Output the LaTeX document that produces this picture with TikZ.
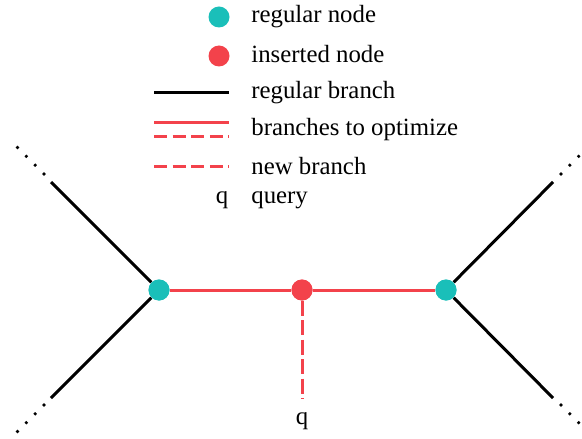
\documentclass[tikz,border=0pt]{standalone}
\usepackage{fontspec}
\setmainfont{Liberation Serif}
\newfontfamily\labelfont{Liberation Serif}
\definecolor{nodeteal}{RGB}{26,191,185}
\definecolor{branchred}{RGB}{243,66,75}
\begin{document}
\begin{tikzpicture}[x=0.5pt,y=-0.5pt,
  every node/.style={font=\labelfont\fontsize{12.4pt}{14pt}\selectfont},
  regnode/.style={circle, fill=nodeteal, minimum size=10.5pt, inner sep=0pt},
  insnode/.style={circle, fill=branchred, minimum size=10.5pt, inner sep=0pt},
  regbranch/.style={line width=1.5pt, black},
  optbranch/.style={line width=1.5pt, branchred},
  newbranch/.style={line width=1.5pt, branchred, dash pattern=on 7.5pt off 2.2pt},
  legdash/.style={line width=1.5pt, branchred, dash pattern=on 6.5pt off 2.8pt},
  cont/.style={line width=1.8pt, line cap=round, dash pattern=on 0pt off 6.25pt},
  label/.style={anchor=mid west, inner sep=0pt}]
\useasboundingbox (0,0) rectangle (582,438);

% legend
\node[regnode] (lgreg) at (219,17) {};
\node[label] (lgregt) at (251,18) {regular node};
\node[insnode] (lgins) at (219,56) {};
\node[label] (lginst) at (251,58) {inserted node};
\coordinate (lbA) at (154,93);
\coordinate (lbB) at (229,93);
\draw[regbranch] (lbA) -- (lbB);
\node[label] (lgbrt) at (251,94) {regular branch};
\coordinate (loA) at (154,123);
\coordinate (loB) at (229,123);
\draw[optbranch] (loA) -- (loB);
\coordinate (ldA) at (154,137);
\coordinate (ldB) at (229,137);
\draw[legdash] (ldA) -- (ldB);
\node[label] (lgopt) at (251,131) {branches to optimize};
\coordinate (lnA) at (154,167);
\coordinate (lnB) at (229,167);
\draw[legdash] (lnA) -- (lnB);
\node[label] (lgnew) at (251,170) {new branch};
\node[anchor=mid, inner sep=0pt] (lgq) at (222,199) {q};
\node[label] (lgqt) at (251,199) {query};

% tree
\node[regnode] (left) at (159,290) {};
\node[insnode] (mid) at (302,290) {};
\node[regnode] (right) at (446,290) {};
\node[anchor=mid, inner sep=0pt] (q) at (302,420) {q};

\coordinate (lu) at (51,182);
\coordinate (ld) at (51,398);
\coordinate (ru) at (553,182);
\coordinate (rd) at (553,398);
\coordinate (qend) at (302,398);

\draw[regbranch] (left) -- (lu);
\draw[regbranch] (left) -- (ld);
\draw[regbranch] (right) -- (ru);
\draw[regbranch] (right) -- (rd);
\draw[optbranch] (left) -- (mid);
\draw[optbranch] (mid) -- (right);
\draw[newbranch] (mid) -- (qend);

% continuation dots
\coordinate (luA) at (44,174); \coordinate (luB) at (16,146);
\coordinate (ldA) at (44,405); \coordinate (ldB) at (16,433);
\coordinate (ruA) at (561,174); \coordinate (ruB) at (589,146);
\coordinate (rdA) at (561,405); \coordinate (rdB) at (589,433);
\draw[cont] (luA) -- (luB);
\draw[cont] (ldA) -- (ldB);
\draw[cont] (ruA) -- (ruB);
\draw[cont] (rdA) -- (rdB);

% nodes on top of branches
\node[regnode] at (left) {};
\node[insnode] at (mid) {};
\node[regnode] at (right) {};
\end{tikzpicture}
\end{document}
